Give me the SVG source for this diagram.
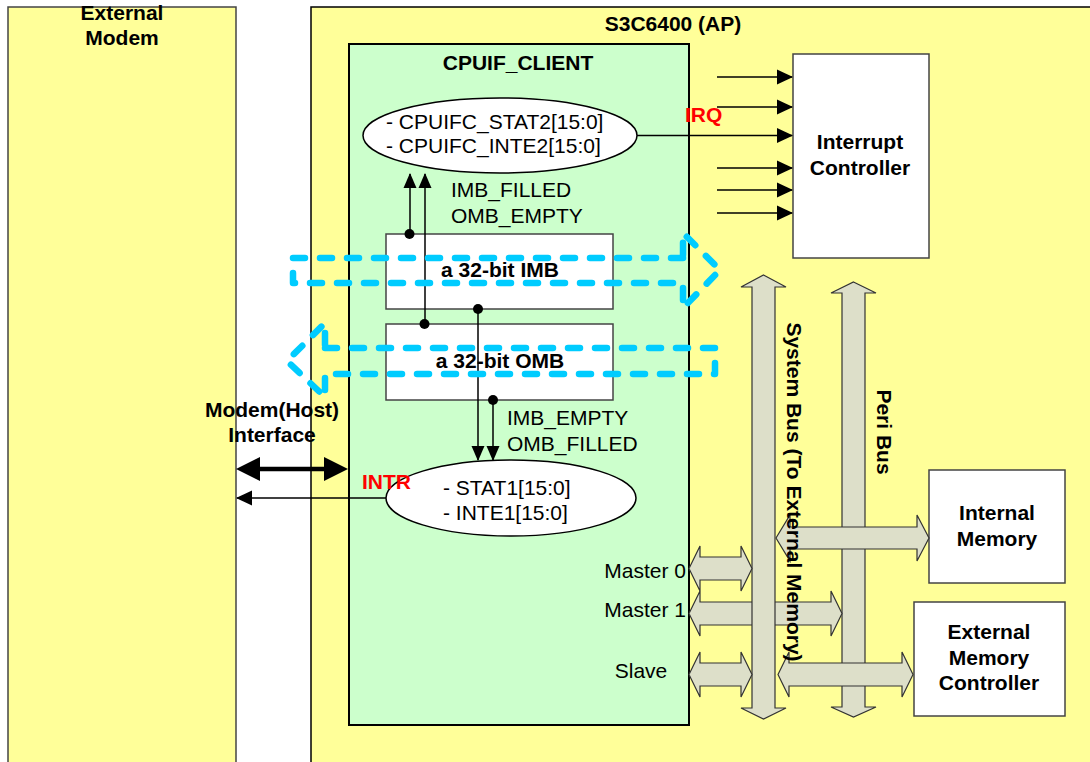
<svg xmlns="http://www.w3.org/2000/svg" width="1090" height="762" viewBox="0 0 1090 762">
<defs>
<style>
text{font-family:"Liberation Sans",Arial,sans-serif;font-size:21px;fill:#000}
.b{font-weight:bold}
.red{fill:#FF0000;font-weight:bold}
.ln{stroke:#000;stroke-width:1.5;fill:none}
.box{fill:#FFFFFF;stroke:#444;stroke-width:1.5}
.bus{fill:#DDDFC9;stroke:#333;stroke-width:1.2}
.dash{fill:none;stroke:#00CCFF;stroke-width:6.5;stroke-dasharray:12 15;stroke-linecap:round;stroke-linejoin:round}
</style>
<marker id="ah" viewBox="0 0 16 16" markerWidth="16" markerHeight="16" refX="15" refY="8" orient="auto" markerUnits="userSpaceOnUse">
<path d="M0,0.5 L16,8 L0,15.5 Z" fill="#000"/>
</marker>
<marker id="ahs" viewBox="0 0 15 14" markerWidth="15" markerHeight="14" refX="14" refY="7" orient="auto" markerUnits="userSpaceOnUse">
<path d="M0,0.5 L15,7 L0,13.5 Z" fill="#000"/>
</marker>
</defs>
<rect x="0" y="0" width="1090" height="762" fill="#FFFFFF"/>

<g id="external-modem">
<rect x="8" y="7" width="228" height="770" fill="#FFFF99" stroke="#444" stroke-width="1.5"/>
<text class="b" x="122" y="20" text-anchor="middle">External</text>
<text class="b" x="122" y="45" text-anchor="middle">Modem</text>
</g>

<g id="s3c6400">
<rect x="311" y="7" width="790" height="770" fill="#FFFF99" stroke="#000" stroke-width="1.5"/>
<text class="b" x="673" y="31" text-anchor="middle">S3C6400 (AP)</text>
</g>

<g id="cpuif-client">
<rect x="349" y="44" width="340" height="681" fill="#CCFFCC" stroke="#000" stroke-width="2"/>
<text class="b" x="518" y="70" text-anchor="middle">CPUIF_CLIENT</text>
</g>

<g id="interrupt-controller">
<rect class="box" x="793" y="54" width="136" height="204"/>
<text class="b" x="860" y="149" text-anchor="middle">Interrupt</text>
<text class="b" x="860" y="175" text-anchor="middle">Controller</text>
</g>

<g id="internal-memory">
<rect class="box" x="929" y="470" width="136" height="113"/>
<text class="b" x="997" y="520" text-anchor="middle">Internal</text>
<text class="b" x="997" y="546" text-anchor="middle">Memory</text>
</g>

<g id="external-memory-controller">
<rect class="box" x="914" y="602" width="151" height="114"/>
<text class="b" x="989" y="639" text-anchor="middle">External</text>
<text class="b" x="989" y="665" text-anchor="middle">Memory</text>
<text class="b" x="989" y="690" text-anchor="middle">Controller</text>
</g>

<g id="imb">
<rect class="box" x="386" y="234" width="227" height="75"/>
</g>
<g id="omb">
<rect class="box" x="386" y="324" width="227" height="76"/>
</g>

<g id="stat2">
<ellipse cx="500" cy="135.5" rx="137" ry="37.5" fill="#FFFFFF" stroke="#000" stroke-width="1.5"/>
<text x="386" y="129">- CPUIFC_STAT2[15:0]</text>
<text x="386" y="153">- CPUIFC_INTE2[15:0]</text>
</g>

<g id="stat1">
<ellipse cx="511" cy="498" rx="125" ry="38" fill="#FFFFFF" stroke="#000" stroke-width="1.5"/>
<text x="443" y="495">- STAT1[15:0]</text>
<text x="443" y="520">- INTE1[15:0]</text>
</g>

<g id="buses">
<polygon class="bus" points="853.5,282 876,293 865,293 865,707 876,707 853.5,717 831,707 842,707 842,293 831,293"/>
<polygon class="bus" points="776,538 790,515 790,527 917,527 917,515 929,538 917,561 917,549 790,549 790,561"/>
<polygon class="bus" points="778,674.5 789,652 789,663 902,663 902,652 913,674.5 902,697 902,686 789,686 789,697"/>
<polygon class="bus" points="689,613.5 700,591 700,602 831,602 831,591 842,613.5 831,636 831,625 700,625 700,636"/>
<polygon class="bus" points="763.5,275 786,287 775,287 775,708 786,708 763.5,719 741,708 752,708 752,287 741,287"/>
<polygon class="bus" points="689,568.5 700,546 700,557 741,557 741,546 752,568.5 741,591 741,580 700,580 700,591"/>
<polygon class="bus" points="689,674.5 700,652 700,663 741,663 741,652 752,674.5 741,697 741,686 700,686 700,697"/>
</g>

<g id="connectors">
<line class="ln" x1="410" y1="234" x2="410" y2="174" marker-end="url(#ahs)"/>
<line class="ln" x1="425" y1="324" x2="425" y2="174" marker-end="url(#ahs)"/>
<line class="ln" x1="478" y1="309" x2="478" y2="460" marker-end="url(#ahs)"/>
<line class="ln" x1="493" y1="400" x2="493" y2="460" marker-end="url(#ahs)"/>
<circle cx="409.5" cy="234" r="5" fill="#000"/>
<circle cx="424.5" cy="324" r="5" fill="#000"/>
<circle cx="478" cy="309" r="5" fill="#000"/>
<circle cx="493" cy="400" r="5" fill="#000"/>
<line class="ln" x1="637" y1="135.5" x2="792" y2="135.5" marker-end="url(#ah)"/>
<line class="ln" x1="717" y1="77" x2="792" y2="77" marker-end="url(#ah)"/>
<line class="ln" x1="717" y1="107" x2="792" y2="107" marker-end="url(#ah)"/>
<line class="ln" x1="717" y1="168" x2="792" y2="168" marker-end="url(#ah)"/>
<line class="ln" x1="717" y1="190" x2="792" y2="190" marker-end="url(#ah)"/>
<line class="ln" x1="717" y1="213" x2="792" y2="213" marker-end="url(#ah)"/>
<line class="ln" x1="386" y1="498" x2="237" y2="498" marker-end="url(#ah)"/>
<line x1="256" y1="469" x2="328" y2="469" stroke="#000" stroke-width="4.5"/>
<polygon points="236,469 260,457 260,481" fill="#000"/>
<polygon points="348,469 324,457 324,481" fill="#000"/>
<path class="dash" d="M683,258 L293,258 L293,283 L683,283 L683,308 L720,270 L683,233 Z"/>
<path class="dash" d="M325,348 L715,348 L715,374 L325,374 L325,397 L287,361 L325,323 Z"/>
</g>

<g id="labels">
<text class="b" x="500" y="277" text-anchor="middle">a 32-bit IMB</text>
<text class="b" x="500" y="368" text-anchor="middle">a 32-bit OMB</text>
<text x="451" y="197">IMB_FILLED</text>
<text x="451" y="223">OMB_EMPTY</text>
<text x="507" y="425">IMB_EMPTY</text>
<text x="507" y="451">OMB_FILLED</text>
<text class="red" x="685" y="122">IRQ</text>
<text class="red" x="362" y="489">INTR</text>
<text class="b" x="272" y="417" text-anchor="middle">Modem(Host)</text>
<text class="b" x="272" y="442" text-anchor="middle">Interface</text>
<text x="686" y="578" text-anchor="end">Master 0</text>
<text x="686" y="617" text-anchor="end">Master 1</text>
<text x="641" y="678" text-anchor="middle">Slave</text>
<text class="b" transform="translate(787,492) rotate(90)" text-anchor="middle">System Bus (To External Memory)</text>
<text class="b" transform="translate(877,432) rotate(90)" text-anchor="middle">Peri Bus</text>
</g>
</svg>
